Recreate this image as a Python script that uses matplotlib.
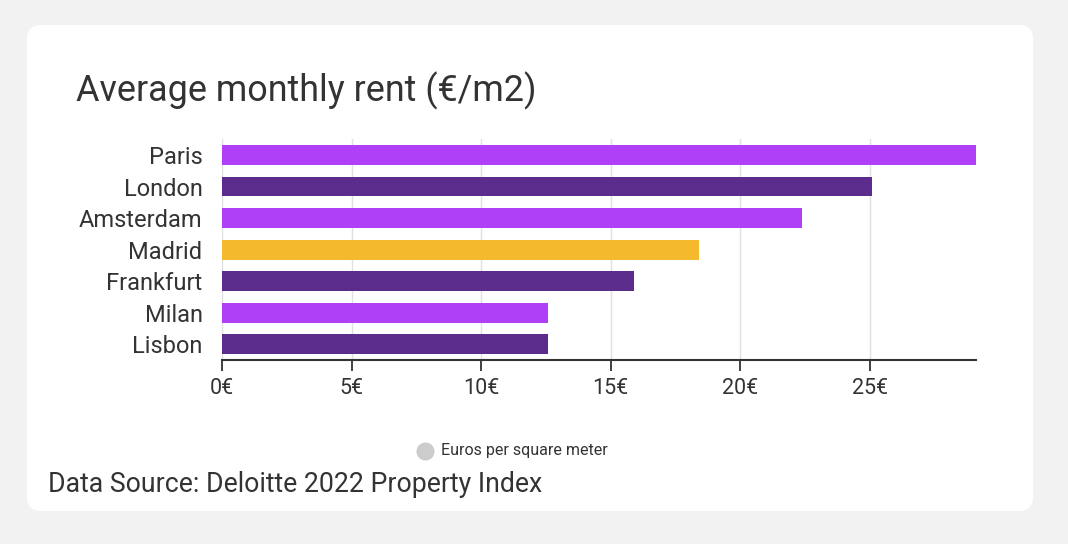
import matplotlib
matplotlib.use("Agg")
import matplotlib.pyplot as plt
from matplotlib.patches import FancyBboxPatch
from matplotlib.transforms import IdentityTransform
from matplotlib.lines import Line2D

cities = ["Paris", "London", "Amsterdam", "Madrid", "Frankfurt", "Milan", "Lisbon"]
rent = [29.1, 25.1, 22.4, 18.4, 15.9, 12.6, 12.6]
colors = ["#b03ff8", "#5c2c8d", "#b03ff8", "#f5b92e", "#5c2c8d", "#b03ff8", "#5c2c8d"]
xticks = [0, 5, 10, 15, 20, 25]
xtick_labels = ["0€", "5€", "10€", "15€", "20€", "25€"]

W, H = 1068, 544
plt.rcParams["font.family"] = ["Roboto", "DejaVu Sans"]
fig = plt.figure(figsize=(W / 100, H / 100), dpi=100)
fig.patch.set_facecolor("#f2f2f2")

card = FancyBboxPatch((27, H - 511), 1006, 486,
                      boxstyle="round,pad=0,rounding_size=14",
                      transform=IdentityTransform(), facecolor="white",
                      edgecolor="none", zorder=-5)
fig.patches.append(card)

left, right, top, bottom = 222, 976, 139.25, 360
ax = fig.add_axes([left / W, (H - bottom) / H, (right - left) / W, (bottom - top) / H])
ax.set_zorder(2)
ax.set_facecolor("none")
y = list(range(len(cities)))
ax.barh(y, rent, height=0.63, color=colors, zorder=2)
ax.set_ylim(len(cities) - 0.5, -0.5)
ax.set_xlim(0, 29.1)
ax.set_yticks(y)
ax.set_yticklabels(cities, fontsize=17, color="#333333")
ax.set_xticks(xticks)
ax.set_xticklabels(xtick_labels, fontsize=15.5, color="#333333")
ax.tick_params(axis="y", length=0, pad=14)
ax.tick_params(axis="x", length=8, width=1.3, color="#333333", direction="out", pad=5)
for s in ["top", "right", "left"]:
    ax.spines[s].set_visible(False)
ax.spines["bottom"].set_color("#333333")
ax.spines["bottom"].set_linewidth(1.5)
ax.grid(axis="x", color="#e0e0e0", linewidth=1, zorder=0)
ax.set_axisbelow(True)

fig.text(76 / W, 1 - 91 / H, "Average monthly rent (€/m2)", fontsize=25.8,
         color="#333333", va="center", ha="left")

fig.add_artist(Line2D([425 / W], [1 - 451 / H], marker="o", markersize=12,
                      color="#cccccc", linestyle="none", transform=fig.transFigure))
fig.text(441 / W, 1 - 451 / H, "Euros per square meter", fontsize=11.5,
         color="#333333", va="center", ha="left")
fig.text(48 / W, 1 - 484 / H, "Data Source: Deloitte 2022 Property Index", fontsize=19.2,
         color="#333333", va="center", ha="left")

fig.savefig("out.png", dpi=100, facecolor=fig.get_facecolor())
